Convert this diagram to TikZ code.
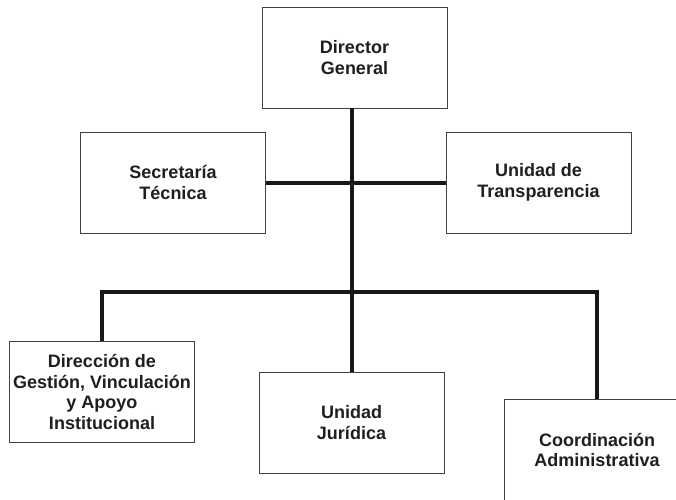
\documentclass[tikz,border=0pt]{standalone}
\usepackage{fontspec}
\setmainfont{Liberation Sans}
\begin{document}
\begin{tikzpicture}[x=1pt,y=-1pt,
  box/.style={draw=black!75, line width=0.8pt, minimum width=185pt, minimum height=101pt,
    align=center, inner sep=0pt, font=\bfseries\fontsize{18}{20.5}\selectfont, text=black!88},
  conn/.style={line width=4pt, draw=black!90}]
\clip (0,0) rectangle (676,499);
\fill[white] (0,0) rectangle (676,499);
\node[box] (dg) at (354.5,57.5) {Director\\General};
\node[box] (st) at (173,182.5) {Secretaría\\Técnica};
\node[box] (ut) at (538.5,182.5) {Unidad de\\Transparencia};
\node[box] (dgv) at (102,392) {Dirección de\\Gestión, Vinculación\\y Apoyo\\Institucional};
\node[box] (uj) at (351.5,422.5) {Unidad\\Jurídica};
\node[box] (ca) at (597,450) {Coordinación\\Administrativa};
\coordinate (bus) at (352,292);
\draw[conn] (dg.south -| bus) -- (uj.north -| bus);
\draw[conn] (st.east) -- (ut.west);
\draw[conn] (dgv.north) |- (bus) -| (ca.north);
\end{tikzpicture}
\end{document}
